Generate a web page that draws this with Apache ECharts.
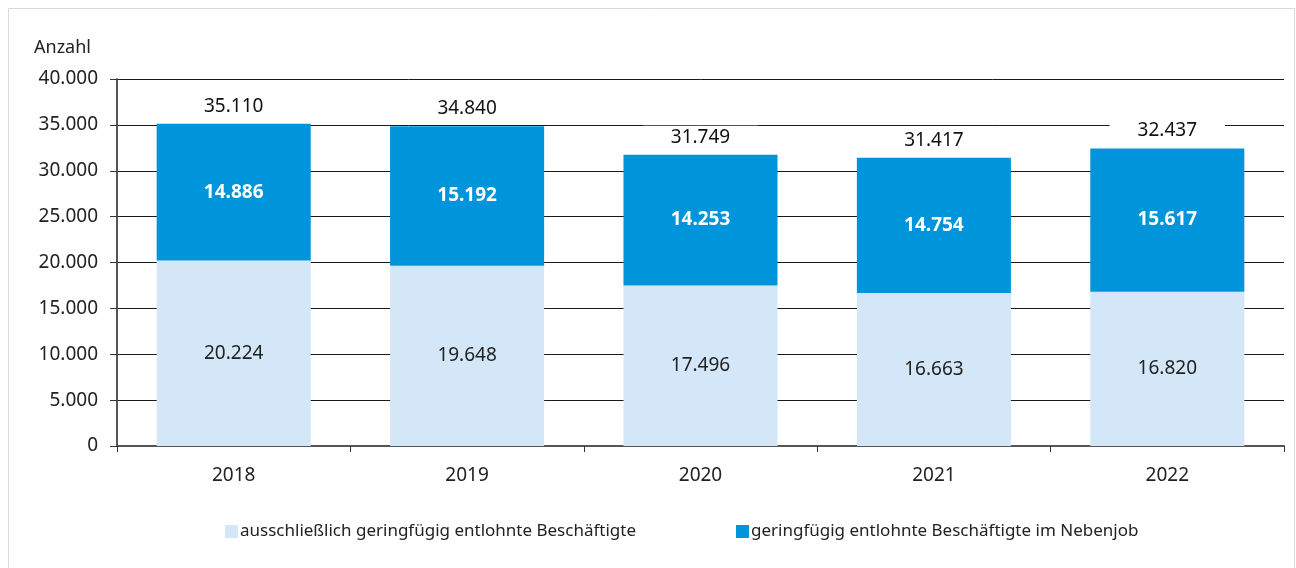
<!DOCTYPE html>
<html>
<head>
<meta charset="utf-8">
<script src="https://cdn.jsdelivr.net/npm/echarts@6/dist/echarts.min.js"></script>
<style>
  html, body { margin: 0; padding: 0; background: #fff; }
  #chart { width: 1296px; height: 568px; }
</style>
</head>
<body>
<div id="chart"></div>
<script>
const years = ['2018', '2019', '2020', '2021', '2022'];
const exclusive = [20224, 19648, 17496, 16663, 16820];
const sideJob = [14886, 15192, 14253, 14754, 15617];
const totals = [35110, 34840, 31749, 31417, 32437];

const FONT = "'Noto Sans', sans-serif";
const fmt = v => String(v).replace(/\B(?=(\d{3})+(?!\d))/g, '.');

const chart = echarts.init(document.getElementById('chart'), null, {renderer: 'canvas'});

chart.setOption({
  animation: false,
  textStyle: {fontFamily: FONT},
  graphic: [{
    type: 'rect',
    shape: {x: 8.5, y: 8.5, width: 1286, height: 570},
    style: {fill: 'none', stroke: '#d9d9d9', lineWidth: 1},
    silent: true
  }],
  grid: {left: 117, right: 12, top: 79, bottom: 122},
  legend: {
    bottom: 23,
    left: 220,
    itemWidth: 13,
    itemHeight: 13,
    itemGap: 100,
    icon: 'rect',
    textStyle: {fontFamily: FONT, fontSize: 17, color: '#222', padding: [0, 0, 0, -3]},
    data: ['ausschließlich geringfügig entlohnte Beschäftigte', 'geringfügig entlohnte Beschäftigte im Nebenjob']
  },
  xAxis: {
    type: 'category',
    data: years,
    axisLine: {lineStyle: {color: '#555', width: 2}},
    axisTick: {show: true, length: 6, lineStyle: {color: '#333', width: 1}},
    axisLabel: {fontFamily: FONT, fontSize: 19, color: '#222', margin: 20}
  },
  yAxis: {
    type: 'value',
    min: 0,
    max: 40000,
    interval: 5000,
    name: 'Anzahl',
    nameLocation: 'end',
    nameGap: 22,
    nameTextStyle: {fontFamily: FONT, fontSize: 18, color: '#222', align: 'left', padding: [0, 0, 0, -83]},
    axisLine: {show: true, lineStyle: {color: '#555', width: 2}},
    axisTick: {show: true, length: 7, lineStyle: {color: '#333'}},
    axisLabel: {fontFamily: FONT, fontSize: 19, color: '#222', margin: 19, formatter: v => fmt(v)},
    splitLine: {lineStyle: {color: '#1a1a1a', width: 1}}
  },
  series: [
    {
      name: 'ausschließlich geringfügig entlohnte Beschäftigte',
      type: 'bar',
      stack: 'total',
      barWidth: '66%',
      data: exclusive,
      itemStyle: {color: '#d4e7f8'},
      label: {show: true, position: 'inside', fontFamily: FONT, fontSize: 19, color: '#222', formatter: p => fmt(p.value)}
    },
    {
      name: 'geringfügig entlohnte Beschäftigte im Nebenjob',
      type: 'bar',
      stack: 'total',
      data: sideJob,
      itemStyle: {color: '#0095da'},
      label: {show: true, position: 'inside', fontFamily: FONT, fontSize: 19, fontWeight: 'bold', color: '#fff', formatter: p => fmt(p.value)}
    },
    {
      // totals above the stacks
      name: 'Summe',
      type: 'scatter',
      data: totals,
      symbolSize: 0,
      silent: true,
      itemStyle: {opacity: 1},
      label: {
        show: true,
        position: 'top',
        distance: 6,
        fontFamily: FONT,
        fontSize: 19,
        color: '#111',
        backgroundColor: '#fff',
        padding: [2, 28],
        formatter: p => fmt(p.value)
      }
    }
  ]
});
</script>
</body>
</html>
